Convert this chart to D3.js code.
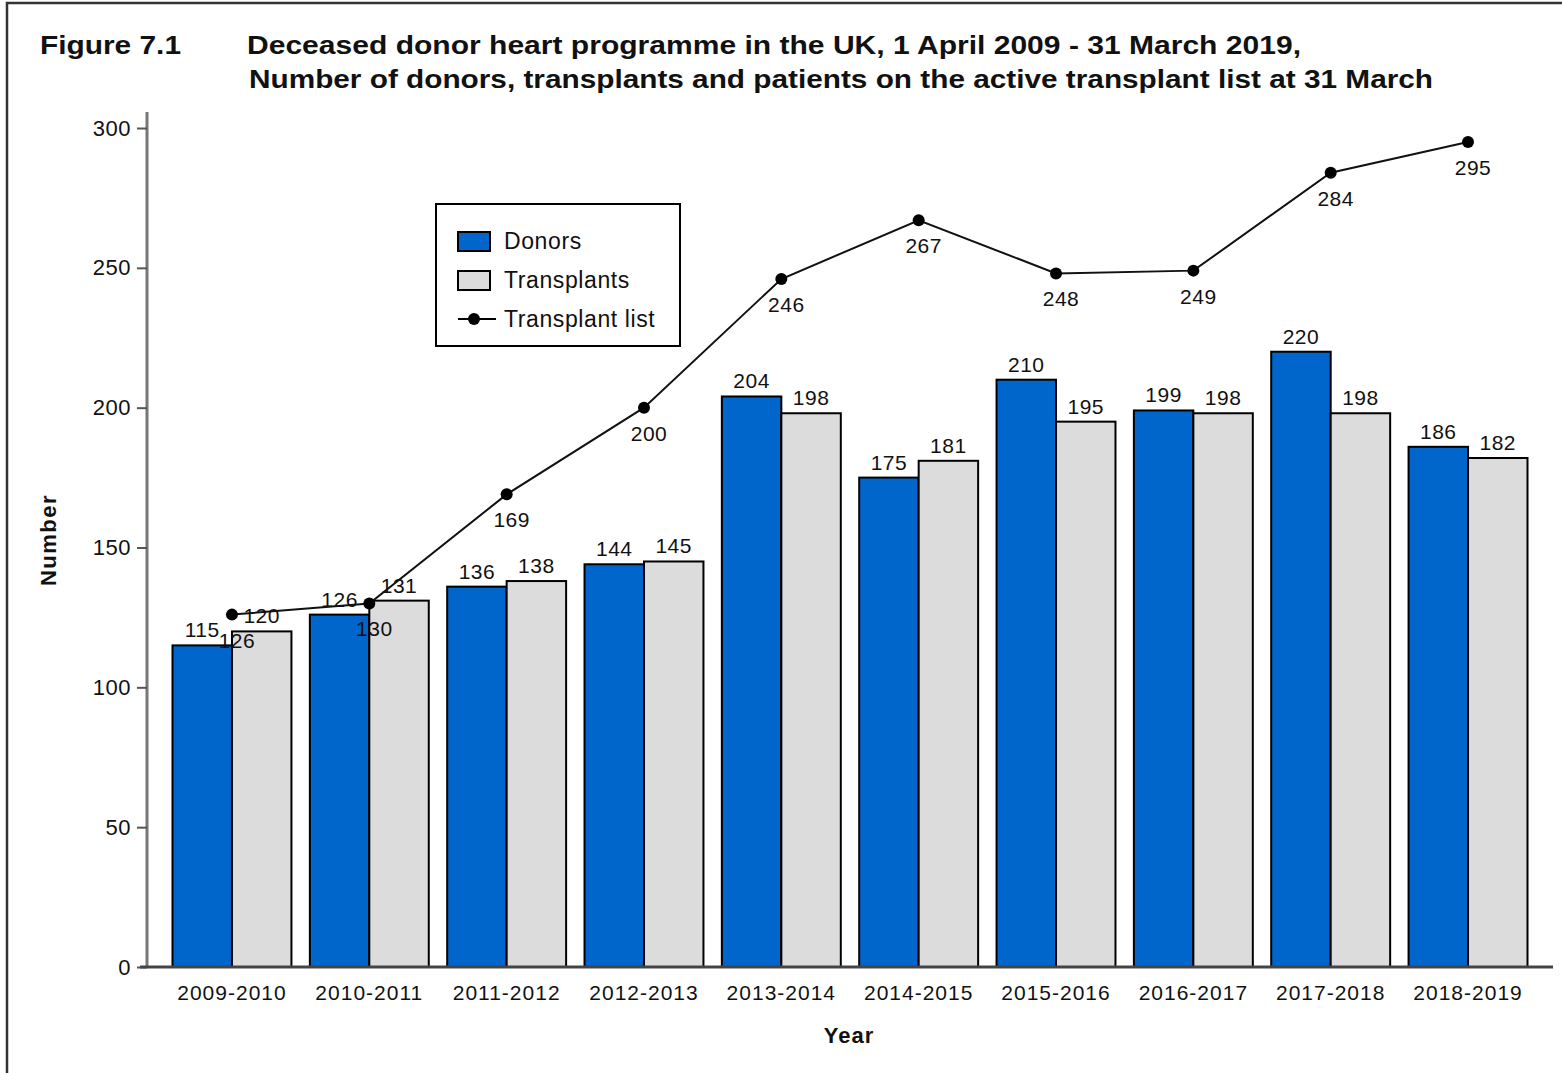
<!DOCTYPE html>
<html><head><meta charset="utf-8">
<script src="https://cdn.jsdelivr.net/npm/d3@7"></script>
<style>body{margin:0;background:#fff}svg{display:block;font-family:"Liberation Sans",Arial,sans-serif}</style>
</head><body><svg id="c" width="1562" height="1073"></svg>
<script>
const years = ["2009-2010","2010-2011","2011-2012","2012-2013","2013-2014","2014-2015","2015-2016","2016-2017","2017-2018","2018-2019"];
const donors = [115,126,136,144,204,175,210,199,220,186];
const transplants = [120,131,138,145,198,181,195,198,198,182];
const transplantList = [126,130,169,200,246,267,248,249,284,295];
const yTicks = [0,50,100,150,200,250,300];
const seriesNames = ["Donors","Transplants"];
const legendNames = ["Donors","Transplants","Transplant list"];
const titleLead = "Figure 7.1";
const titleLines = ["Deceased donor heart programme in the UK, 1 April 2009 - 31 March 2019,",
                    "Number of donors, transplants and patients on the active transplant list at 31 March"];

const svg = d3.select("#c");
const colors = {Donors:"#0066cc", Transplants:"#dcdcdc"};

// frame
svg.append("rect").attr("x",7).attr("y",3).attr("width",1600).attr("height",1100)
  .attr("fill","none").attr("stroke","#333").attr("stroke-width",2.5);

// titles
svg.append("text").attr("x",40).attr("y",54).attr("font-size",25).attr("font-weight","bold")
  .attr("fill","#111").attr("textLength",141).attr("lengthAdjust","spacingAndGlyphs").text(titleLead);
svg.append("text").attr("x",247).attr("y",54).attr("font-size",25).attr("font-weight","bold")
  .attr("fill","#111").attr("textLength",1054).attr("lengthAdjust","spacingAndGlyphs").text(titleLines[0]);
svg.append("text").attr("x",249).attr("y",88).attr("font-size",25).attr("font-weight","bold")
  .attr("fill","#111").attr("textLength",1184).attr("lengthAdjust","spacingAndGlyphs").text(titleLines[1]);

const y = d3.scaleLinear().domain([0,300]).range([967,128]);
const x0 = d3.scaleBand().domain(years).range([163.3,1536.7]).paddingInner(0.134).paddingOuter(0.067);
const x1 = d3.scaleBand().domain(seriesNames).range([0,x0.bandwidth()]);

// y axis
svg.append("line").attr("x1",147).attr("x2",147).attr("y1",112).attr("y2",967)
  .attr("stroke","#777").attr("stroke-width",3);
const ya = svg.append("g").attr("transform","translate(147,0)")
  .call(d3.axisLeft(y).tickValues(yTicks).tickSize(10).tickPadding(6));
ya.select(".domain").remove();
ya.selectAll(".tick line").attr("stroke","#555").attr("stroke-width",2);
ya.selectAll(".tick text").attr("font-size",22).attr("letter-spacing",0.5).attr("fill","#111").attr("font-family","Liberation Sans, Arial, sans-serif");

// bars
const groups = svg.append("g").selectAll("g").data(years).join("g")
  .attr("transform",d=>`translate(${x0(d)},0)`);
const barData = (yr,i)=>[{k:"Donors",v:donors[i]},{k:"Transplants",v:transplants[i]}];
groups.each(function(yr,i){
  const g = d3.select(this);
  const bd = barData(yr,i);
  g.selectAll("rect").data(bd).join("rect")
    .attr("x",d=>x1(d.k)).attr("width",x1.bandwidth())
    .attr("y",d=>y(d.v)).attr("height",d=>y(0)-y(d.v))
    .attr("fill",d=>colors[d.k]).attr("stroke","#000").attr("stroke-width",2);
  g.selectAll("text").data(bd).join("text")
    .attr("x",d=>x1(d.k)+x1.bandwidth()/2).attr("y",d=>y(d.v)-8)
    .attr("text-anchor","middle").attr("font-size",21).attr("letter-spacing",0.5).attr("fill","#111")
    .text(d=>d.v);
});

// x axis
svg.append("line").attr("x1",140).attr("x2",1553).attr("y1",967).attr("y2",967)
  .attr("stroke","#444").attr("stroke-width",3);
const xa = svg.append("g").attr("transform","translate(0,967)")
  .call(d3.axisBottom(x0).tickSize(0).tickPadding(18));
xa.select(".domain").remove();
xa.selectAll(".tick text").attr("font-size",21).attr("letter-spacing",1).attr("fill","#111")
  .attr("font-family","Liberation Sans, Arial, sans-serif");

// line
const cx = d=>x0(d)+x0.bandwidth()/2;
const line = d3.line().x((d,i)=>cx(years[i])).y(d=>y(d));
svg.append("path").datum(transplantList).attr("d",line).attr("fill","none")
  .attr("stroke","#111").attr("stroke-width",2);
svg.append("g").selectAll("circle").data(transplantList).join("circle")
  .attr("cx",(d,i)=>cx(years[i])).attr("cy",d=>y(d)).attr("r",6).attr("fill","#000");
svg.append("g").selectAll("text").data(transplantList).join("text")
  .attr("x",(d,i)=>cx(years[i])+5).attr("y",d=>y(d)+33)
  .attr("text-anchor","middle").attr("font-size",21).attr("letter-spacing",0.5).attr("fill","#111").text(d=>d);

// axis titles
svg.append("text").attr("transform","translate(56,540) rotate(-90)").attr("text-anchor","middle")
  .attr("font-size",22).attr("font-weight","bold").attr("letter-spacing",1.5).attr("fill","#111").text("Number");
svg.append("text").attr("x",849).attr("y",1043).attr("text-anchor","middle")
  .attr("font-size",22).attr("font-weight","bold").attr("letter-spacing",1).attr("fill","#111").text("Year");

// legend
const lg = svg.append("g");
lg.append("rect").attr("x",436).attr("y",204).attr("width",244).attr("height",142)
  .attr("fill","#fff").attr("stroke","#000").attr("stroke-width",2);
const rows = lg.selectAll("g").data(legendNames).join("g")
  .attr("transform",(d,i)=>`translate(458,${241+i*39})`);
rows.each(function(d){
  const g = d3.select(this);
  if (colors[d]) {
    g.append("rect").attr("x",0).attr("y",-9).attr("width",32).attr("height",19)
      .attr("fill",colors[d]).attr("stroke","#000").attr("stroke-width",2);
  } else {
    g.append("line").attr("x1",0).attr("x2",38).attr("y1",0).attr("y2",0).attr("stroke","#000").attr("stroke-width",2);
    g.append("circle").attr("cx",16).attr("cy",0).attr("r",6).attr("fill","#000");
  }
  g.append("text").attr("x",46).attr("y",8).attr("font-size",23).attr("letter-spacing",0.6).attr("fill","#111").text(d);
});
</script></body></html>
